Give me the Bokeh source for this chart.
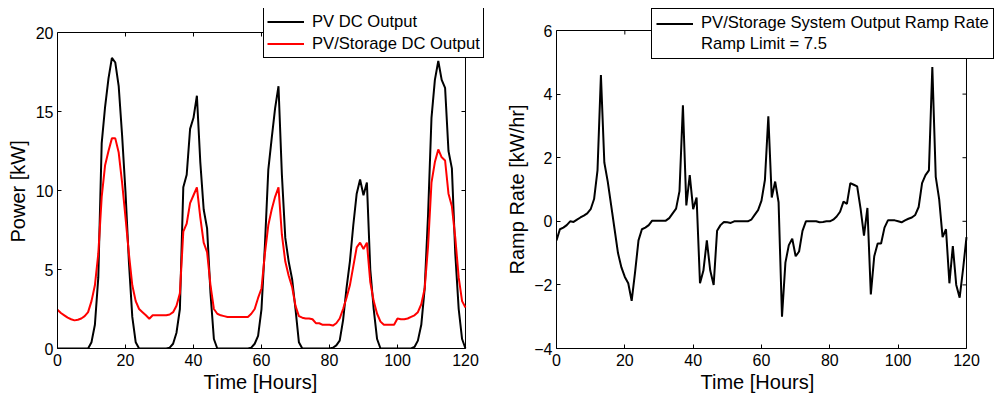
import math
from bokeh.plotting import figure
from bokeh.layouts import row
from bokeh.models import Range1d, Legend, LegendItem, FixedTicker, Title
from bokeh.embed import file_html
from bokeh.resources import INLINE

# ---------------- data ----------------
hours = list(range(121))

pv_dc = [
    0, 0, 0, 0, 0, 0, 0, 0, 0, 0,
    0.4, 1.5, 4.5, 13.0, 15.3, 17.1, 18.4, 18.1, 16.6, 13.5,
    9.9, 5.5, 2.0, 0.4, 0, 0, 0, 0, 0, 0,
    0, 0, 0, 0.05, 0.3, 1.0, 2.5, 10.2, 11.0, 13.9,
    14.6, 16.0, 11.8, 8.8, 7.6, 3.5, 0.6, 0, 0, 0,
    0, 0, 0, 0, 0, 0, 0, 0.05, 0.3, 0.8,
    2.5, 6.5, 11.3, 13.3, 15.2, 16.6, 11.0, 7.0, 5.5, 4.4,
    2.5, 0.4, 0, 0, 0, 0, 0, 0, 0, 0,
    0, 0.05, 0.2, 0.5, 1.8, 3.8, 5.5, 7.8, 9.8, 10.7,
    9.7, 10.5, 5.0, 2.5, 0.6, 0, 0, 0, 0, 0,
    0, 0, 0, 0, 0, 0.1, 0.5, 1.5, 3.8, 8.5,
    14.6, 17.0, 18.2, 17.0, 16.5, 12.5, 11.4, 6.0, 2.5, 0.6,
    0,
]

pv_storage_dc = [
    2.45, 2.25, 2.1, 1.95, 1.85, 1.78, 1.82, 1.9, 2.05, 2.3,
    3.0, 4.0, 6.0, 9.6, 11.6, 12.5, 13.3, 13.3, 12.4, 10.5,
    8.3, 6.0, 4.0, 3.0, 2.5, 2.3, 2.1, 1.88, 2.1, 2.1,
    2.1, 2.1, 2.1, 2.15, 2.3, 2.7, 3.5, 7.4, 7.9, 9.2,
    9.7, 10.2, 8.3, 6.7, 6.1, 4.0, 2.5, 2.2, 2.1, 2.05,
    2.0, 2.0, 2.0, 2.0, 2.0, 2.0, 2.0, 2.2, 2.5, 3.2,
    3.8, 6.0, 7.8, 8.8, 9.6, 10.2, 7.2, 5.5, 4.6, 3.9,
    2.7, 2.05, 1.95, 1.9, 1.9, 1.85, 1.6, 1.6, 1.5, 1.5,
    1.5, 1.45, 1.6, 1.9, 2.5, 3.2, 4.0, 5.2, 6.4, 6.7,
    6.3, 6.7, 4.2, 3.0, 2.2, 1.7, 1.5, 1.5, 1.5, 1.5,
    1.9, 1.85, 1.85, 1.9, 2.0, 2.1, 2.3, 2.8, 3.8, 6.5,
    10.5, 11.8, 12.6, 12.1, 11.9, 9.8, 9.0, 7.0, 4.5, 3.0,
    2.6,
]

ramp_rate = [
    -0.6, -0.25, -0.2, -0.12, 0.0, -0.02, 0.05, 0.12, 0.18, 0.25,
    0.38, 0.7, 1.6, 4.6, 1.85, 1.25, 0.5, -0.25, -1.0, -1.45,
    -1.75, -1.95, -2.5, -1.6, -0.6, -0.25, -0.2, -0.12, 0.02, 0.02,
    0.02, 0.02, 0.02, 0.1, 0.25, 0.4, 0.95, 3.65, 0.5, 1.45,
    0.38, 0.75, -1.95, -1.55, -0.6, -1.55, -2.0, -0.3, -0.12, -0.02,
    -0.03, -0.05, 0.0, 0.0, 0.0, 0.0, 0.0, 0.05, 0.2, 0.35,
    0.65, 1.3, 3.3, 0.75, 1.25, 0.6, -3.0, -1.3, -0.75, -0.55,
    -1.1, -0.95, -0.3, 0.0, 0.0, 0.0, 0.0, -0.03, -0.02, 0.0,
    0.0, 0.05, 0.15, 0.3, 0.62, 0.55, 1.2, 1.15, 1.1, 0.4,
    -0.45, 0.42, -2.3, -1.1, -0.7, -0.7, -0.2, 0.03, 0.03, 0.03,
    0.0, -0.03, 0.03, 0.08, 0.12, 0.2, 0.45, 1.2, 1.45, 1.6,
    4.85, 1.4, 0.7, -0.5, -0.25, -1.95, -0.78, -2.0, -2.4, -1.5,
    -0.5,
]

ramp_limit = 7.5

hour_ticks = [0, 20, 40, 60, 80, 100, 120]
power_ticks = [0, 5, 10, 15, 20]
ramp_ticks = [-4, -2, 0, 2, 4, 6]

legend_left_labels = ["PV DC Output", "PV/Storage DC Output"]
legend_right_labels = ["PV/Storage System Output Ramp Rate", "Ramp Limit = " + str(ramp_limit)]

FONT = "Liberation Sans"
TICK_SIZE = "16px"
LABEL_SIZE = "20px"
LEGEND_SIZE = "16.6px"


def style_axes(p, xticks, yticks, xlabel, ylabel, xlabel_offset, ylabel_offset):
    """Matlab-like box: real bottom/left axes limited to the data box, plus
    the top and right edges of the box with inward tick marks."""
    p.xgrid.visible = False
    p.ygrid.visible = False
    p.outline_line_color = None
    p.background_fill_color = "white"
    p.border_fill_color = "white"

    x0, x1 = xticks[0], xticks[-1]
    y0, y1 = yticks[0], yticks[-1]

    p.xaxis.ticker = FixedTicker(ticks=xticks)
    p.yaxis.ticker = FixedTicker(ticks=yticks)
    p.xaxis.bounds = (x0, x1)
    p.yaxis.bounds = (y0, y1)
    for ax in (p.xaxis[0], p.yaxis[0]):
        ax.axis_line_color = "black"
        ax.major_tick_line_color = "black"
        ax.major_tick_in = 4
        ax.major_tick_out = 0
        ax.minor_tick_line_color = None
        ax.major_label_text_font = FONT
        ax.major_label_text_font_size = TICK_SIZE
        ax.major_label_text_color = "black"
    p.xaxis.major_label_standoff = 5
    p.yaxis.major_label_standoff = 4

    # axis labels, placed to sit centred under / beside the data box
    xt = Title(text=xlabel, align="left", offset=xlabel_offset, standoff=1,
               text_font=FONT, text_font_size=LABEL_SIZE, text_font_style="normal",
               text_color="black")
    yt = Title(text=ylabel, align="left", offset=ylabel_offset, standoff=7,
               text_font=FONT, text_font_size=LABEL_SIZE, text_font_style="normal",
               text_color="black")
    p.add_layout(xt, "below")
    p.add_layout(yt, "left")

    # top and right edges of the box
    p.segment(x0=[x0, x1], y0=[y1, y0], x1=[x1, x1], y1=[y1, y1],
              line_color="black", line_width=1)
    # inward ticks on the top and right edges
    p.ray(x=xticks, y=[y1] * len(xticks), length=4, length_units="screen",
          angle=-math.pi / 2, line_color="black", line_width=1)
    p.ray(x=[x1] * len(yticks), y=yticks, length=4, length_units="screen",
          angle=math.pi, line_color="black", line_width=1)


def style_legend(leg, row_h):
    leg.label_text_font = FONT
    leg.label_text_font_size = LEGEND_SIZE
    leg.label_text_color = "black"
    leg.border_line_color = "black"
    leg.border_line_width = 1
    leg.border_line_alpha = 1.0
    leg.background_fill_color = "white"
    leg.background_fill_alpha = 1.0
    leg.padding = 4
    leg.spacing = 1
    leg.glyph_width = 37
    leg.glyph_height = row_h
    leg.label_height = row_h
    leg.label_standoff = 8
    leg.margin = 0


# ---------------- left: power ----------------
# the frame reaches up/right past the data box so the legend can overlap its corner
p1 = figure(width=495, height=396, output_backend="svg", toolbar_location=None,
            x_range=Range1d(0, 128.24), y_range=Range1d(0, 21.52),
            min_border_left=57, min_border_right=2,
            min_border_top=8, min_border_bottom=48)
style_axes(p1, hour_ticks, power_ticks, "Time [Hours]", "Power [kW]", 146, 106)
r_pv = p1.line(hours, pv_dc, line_color="black", line_width=2)
r_st = p1.line(hours, pv_storage_dc, line_color="red", line_width=2)

leg1 = Legend(items=[LegendItem(label=legend_left_labels[0], renderers=[r_pv]),
                     LegendItem(label=legend_left_labels[1], renderers=[r_st])],
              location=(206, 290))
style_legend(leg1, 21)
leg1.padding = 3
leg1.spacing = 1
p1.add_layout(leg1)

# ---------------- right: ramp rate ----------------
p2 = figure(width=500, height=396, output_backend="svg", toolbar_location=None,
            x_range=Range1d(0, 128.49), y_range=Range1d(-4, 6.692),
            min_border_left=61, min_border_right=0,
            min_border_top=8, min_border_bottom=48)
style_axes(p2, hour_ticks, ramp_ticks, "Time [Hours]", "Ramp Rate [kW/hr]", 144, 74)
r_ramp = p2.line(hours, ramp_rate, line_color="black", line_width=2)
r_lim = p2.line([hours[0], hours[-1]], [ramp_limit, ramp_limit],
                line_color="black", line_alpha=0.0, line_width=2)

leg2 = Legend(items=[LegendItem(label=legend_right_labels[0], renderers=[r_ramp]),
                     LegendItem(label=legend_right_labels[1], renderers=[r_lim])],
              location=(95, 289))
style_legend(leg2, 19)
p2.add_layout(leg2)

layout = row(p1, p2)
open("out.html", "w").write(file_html(layout, INLINE))
